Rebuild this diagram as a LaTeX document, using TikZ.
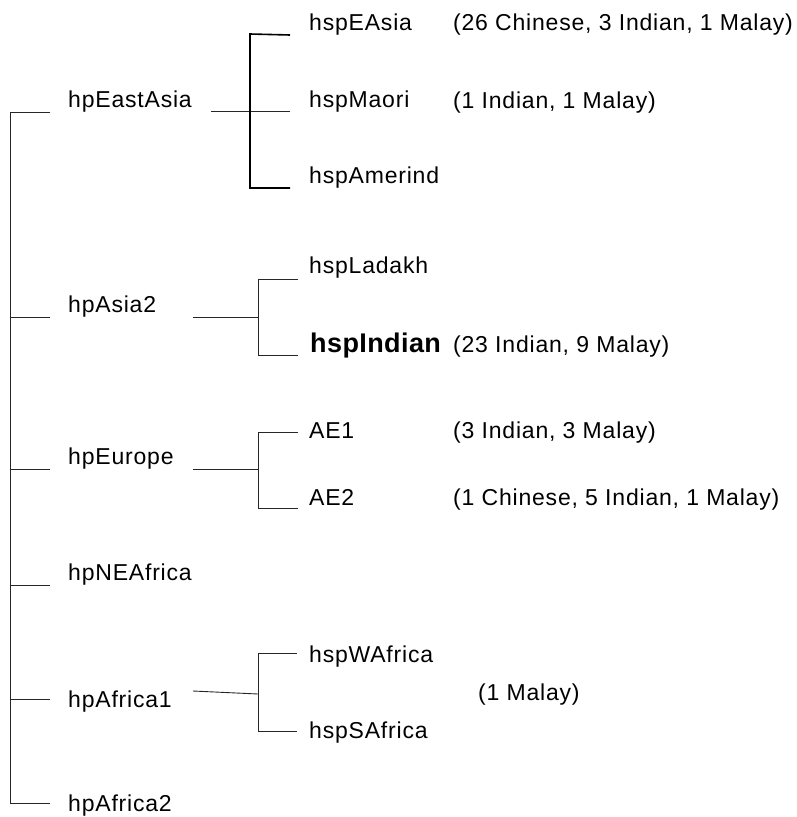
\documentclass[tikz,border=0pt]{standalone}
\usepackage{fontspec}
\setmainfont{Liberation Sans}[LetterSpace=3.5]
\newfontfamily\boldlab{Liberation Sans}[LetterSpace=1.5]
\begin{document}
\begin{tikzpicture}[x=1pt,y=-1pt,
  lab/.style={anchor=base west,inner sep=0pt,font=\fontsize{23}{27}\selectfont},
  boldname/.style={anchor=base west,inner sep=0pt,font=\boldlab\bfseries\fontsize{27}{31}\selectfont},
  tree/.style={line width=0.9pt,black!85},
  thick tree/.style={line width=1.6pt,black}]
\useasboundingbox (0,0) rectangle (797,817);
% level 1 labels
\node[lab] (eastasia) at (68,107) {hpEastAsia};
\node[lab] (asia2) at (68,312) {hpAsia2};
\node[lab] (europe) at (68,464) {hpEurope};
\node[lab] (neafrica) at (68,580) {hpNEAfrica};
\node[lab] (africa1) at (68,707) {hpAfrica1};
\node[lab] (africa2) at (68,811) {hpAfrica2};
% level 2 labels
\node[lab] (easia) at (309,30) {hspEAsia};
\node[lab] (maori) at (309,107) {hspMaori};
\node[lab] (amerind) at (309,183) {hspAmerind};
\node[lab] (ladakh) at (309,273) {hspLadakh};
\node[boldname] (indian) at (310,352) {hspIndian};
\node[lab] (ae1) at (309,438) {AE1};
\node[lab] (ae2) at (309,505) {AE2};
\node[lab] (wafrica) at (309,662) {hspWAfrica};
\node[lab] (safrica) at (309,738) {hspSAfrica};
% annotations
\node[lab] (n1) at (453,30) {(26 Chinese, 3 Indian, 1 Malay)};
\node[lab] (n2) at (453,108) {(1 Indian, 1 Malay)};
\node[lab] (n3) at (453,352) {(23 Indian, 9 Malay)};
\node[lab] (n4) at (453,438) {(3 Indian, 3 Malay)};
\node[lab] (n5) at (453,505) {(1 Chinese, 5 Indian, 1 Malay)};
\node[lab] (n6) at (478,700) {(1 Malay)};
% coordinates of the tree
\coordinate (top) at (10,112);
\coordinate (bot) at (10,803);
\coordinate (t1) at (50,112);
\coordinate (s2) at (10,317);
\coordinate (t2) at (50,317);
\coordinate (s3) at (10,469);
\coordinate (t3) at (50,469);
\coordinate (s4) at (10,585);
\coordinate (t4) at (50,585);
\coordinate (s5) at (10,699);
\coordinate (t5) at (50,699);
\coordinate (t6) at (50,803);
% group 1
\coordinate (g1s) at (211,111);
\coordinate (g1e) at (290,111);
\coordinate (g1a) at (250,34);
\coordinate (g1ae) at (290,35);
\coordinate (g1c) at (250,188);
\coordinate (g1ce) at (290,188);
% group 2
\coordinate (g2s) at (193,317);
\coordinate (g2j) at (258,317);
\coordinate (g2a) at (258,279);
\coordinate (g2ae) at (298,279);
\coordinate (g2b) at (258,355);
\coordinate (g2be) at (298,355);
% group 3
\coordinate (g3s) at (193,469);
\coordinate (g3j) at (258,469);
\coordinate (g3a) at (258,432);
\coordinate (g3ae) at (298,432);
\coordinate (g3b) at (258,508);
\coordinate (g3be) at (298,508);
% group 5
\coordinate (g5s) at (193,691);
\coordinate (g5j) at (258,694);
\coordinate (g5a) at (258,653);
\coordinate (g5ae) at (297,653);
\coordinate (g5b) at (258,731);
\coordinate (g5be) at (297,731);
% draw main tree
\draw[tree] (t1) -- (top) -- (bot) -- (t6);
\draw[tree] (s2) -- (t2);
\draw[tree] (s3) -- (t3);
\draw[tree] (s4) -- (t4);
\draw[tree] (s5) -- (t5);
% group 1
\draw[tree] (g1s) -- (g1e);
\draw[thick tree] (g1ae) -- (g1a) -- (g1c) -- (g1ce);
% group 2
\draw[tree] (g2s) -- (g2j);
\draw[tree] (g2ae) -- (g2a) -- (g2b) -- (g2be);
% group 3
\draw[tree] (g3s) -- (g3j);
\draw[tree] (g3ae) -- (g3a) -- (g3b) -- (g3be);
% group 5
\draw[tree] (g5s) -- (g5j);
\draw[tree] (g5ae) -- (g5a) -- (g5b) -- (g5be);
\end{tikzpicture}
\end{document}
